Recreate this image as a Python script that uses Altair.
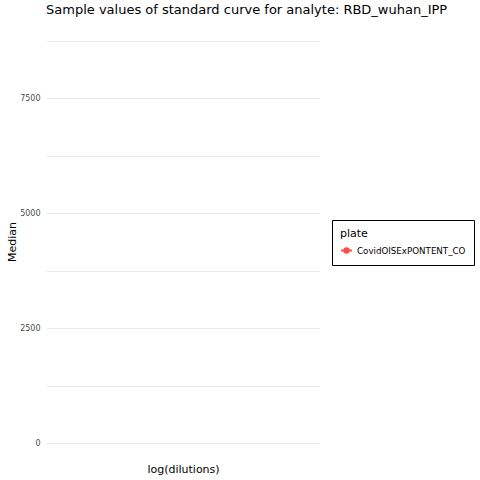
import altair as alt
import pandas as pd

plates = ["CovidOISExPONTENT_CO"] * 7
log_dilutions = [None] * 7
medians = [8600, 4300, 2150, 1080, 540, 270, 135]
grid_values = [0, 1250, 2500, 3750, 5000, 6250, 7500, 8750]
label_values = [0, 2500, 5000, 7500]

df = pd.DataFrame({"plate": plates, "log_dilution": log_dilutions, "Median": medians})

FONT = "DejaVu Sans"
legend_symbol = "M-1,0 L1,0 M0.4,0 A0.4,0.4 0 1,1 -0.4,0 A0.4,0.4 0 1,1 0.4,0 Z"

color = alt.Color(
    "plate:N",
    scale=alt.Scale(domain=["CovidOISExPONTENT_CO"], range=["red"]),
    legend=alt.Legend(
        title="plate",
        orient="none",
        legendX=286,
        legendY=195,
        symbolType=legend_symbol,
        symbolSize=120,
        symbolStrokeWidth=2,
        symbolFillColor="red",
        symbolStrokeColor="red",
        strokeColor="black",
        padding=8,
        titleFont=FONT,
        titleFontSize=11,
        titleFontWeight="normal",
        titleColor="black",
        labelFont=FONT,
        labelFontSize=8.7,
        labelColor="black",
    ),
)

x = alt.X(
    "log_dilution:Q",
    title="log(dilutions)",
    scale=alt.Scale(domain=[0, 1]),
    axis=alt.Axis(labels=False, ticks=False, grid=False, domain=False,
                  titleFont=FONT, titleFontSize=11, titleFontWeight="normal",
                  titleColor="black", titlePadding=5),
)
y = alt.Y(
    "Median:Q",
    title="Median",
    scale=alt.Scale(domain=[-326, 9087], nice=False, zero=False),
    axis=alt.Axis(values=grid_values,
                  labelExpr="indexof([0,2500,5000,7500], datum.value) >= 0 ? datum.value : ''",
                  format="d",
                  ticks=False, domain=False, grid=True, gridColor="#EBEBEB", gridWidth=1,
                  labelFont=FONT, labelFontSize=8, labelColor="#4D4D4D", labelPadding=6,
                  titleFont=FONT, titleFontSize=11, titleFontWeight="normal",
                  titleColor="black", titlePadding=2),
)

base = alt.Chart(df).encode(x=x, y=y, color=color)
chart = alt.layer(base.mark_line(), base.mark_point(filled=True, size=40)).properties(
    width=274,
    height=433,
    autosize=alt.AutoSizeParams(type="none"),
    padding={"left": 46, "top": 25, "right": 160, "bottom": 22},
    title=alt.TitleParams(
        "Sample values of standard curve for analyte: RBD_wuhan_IPP",
        anchor="start", frame="group", font=FONT, fontSize=13, fontWeight="normal",
        color="black", offset=8,
    ),
).configure_view(stroke=None)

chart.save("out.html", embed_options={"renderer": "svg", "actions": False})
